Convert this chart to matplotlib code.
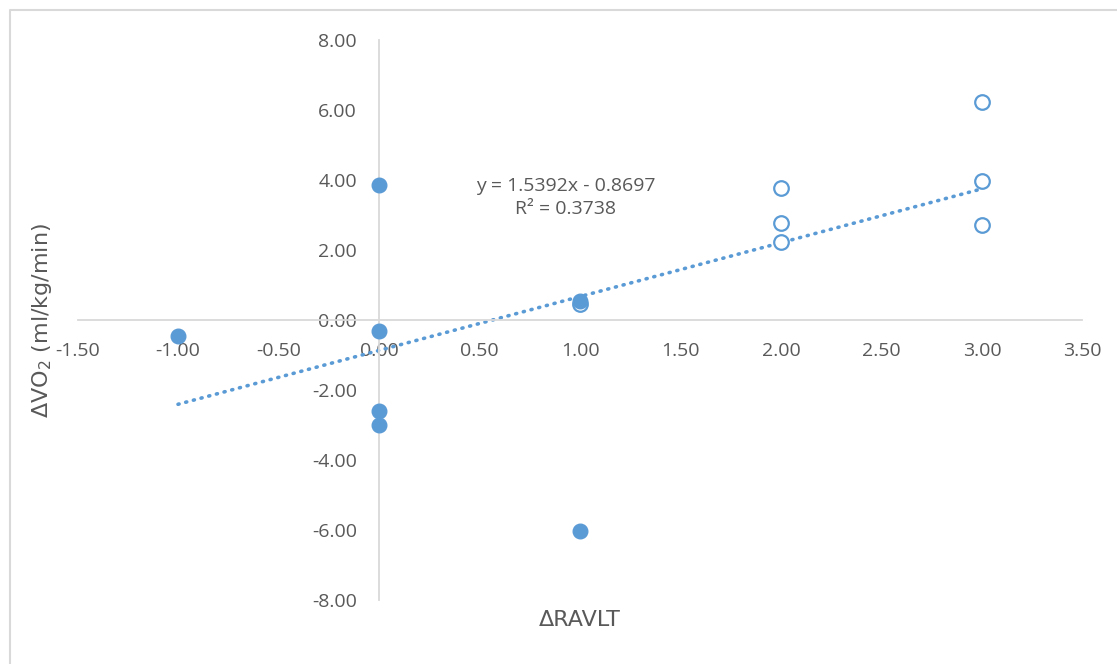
import matplotlib.pyplot as plt
from matplotlib.lines import Line2D

plt.rcParams['font.family'] = ['Open Sans', 'DejaVu Sans']

# filled points
x_filled = [-1, 0, 0, 0, 0, 1, 1]
y_filled = [-0.46, 3.86, -0.31, -2.60, -3.00, 0.54, -6.03]
# open points
x_open = [1, 2, 2, 2, 3, 3, 3]
y_open = [0.46, 3.77, 2.77, 2.23, 6.23, 3.97, 2.71]

slope = 1.5392
intercept = -0.8697
trend_x = [-1, 3]

xticks = [-1.5, -1.0, -0.5, 0.0, 0.5, 1.0, 1.5, 2.0, 2.5, 3.0, 3.5]
yticks = [-8, -6, -4, -2, 0, 2, 4, 6, 8]

blue = '#5b9bd5'
grey = '#595959'

fig = plt.figure(figsize=(11.17, 6.64), dpi=100)
ax = fig.add_axes([0.0694, 0.0964, 0.8997, 0.8434])

ax.plot(x_open, y_open, 'o', ms=10.5, mfc='white', mec=blue, mew=1.6, zorder=3)
ax.plot(x_filled, y_filled, 'o', ms=10.5, mfc=blue, mec=blue, zorder=4)
ax.plot(trend_x, [slope * v + intercept for v in trend_x], color=blue, lw=2.6,
        linestyle=(0, (0.3, 1.9)), dash_capstyle='round', zorder=2)

ax.set_xlim(-1.5, 3.5)
ax.set_ylim(-8, 8)
ax.set_xticks(xticks)
ax.set_yticks(yticks)
ax.set_xticklabels([f"{v:.2f}" for v in xticks])
ax.set_yticklabels([f"{v:.2f}" for v in yticks])

for s in ['top', 'right']:
    ax.spines[s].set_visible(False)
ax.spines['left'].set_position(('data', 0))
ax.spines['bottom'].set_position(('data', 0))
for s in ['left', 'bottom']:
    ax.spines[s].set_color('#d9d9d9')
    ax.spines[s].set_linewidth(1.3)
ax.tick_params(length=0, labelsize=14, labelcolor=grey)
ax.tick_params(axis='x', pad=16)
ax.tick_params(axis='y', pad=16)

ax.text(0.93, 3.5, "y = 1.5392x - 0.8697\nR² = 0.3738", ha='center', va='center',
        fontsize=14, color=grey, linespacing=1.4)

fig.text(0.038, 0.518, "ΔVO$_2$ (ml/kg/min)", rotation=90, ha='center', va='center',
         fontsize=16, color=grey, family='DejaVu Sans')
fig.text(0.519, 0.066, "ΔRAVLT", ha='center', va='center', fontsize=16, color=grey,
         family='DejaVu Sans')

# chart frame
fig.add_artist(Line2D([0.009, 0.009, 1.0], [0.0, 0.985, 0.985], color='#d9d9d9',
                      lw=1.5, transform=fig.transFigure))

fig.savefig('out.png', dpi=100)
